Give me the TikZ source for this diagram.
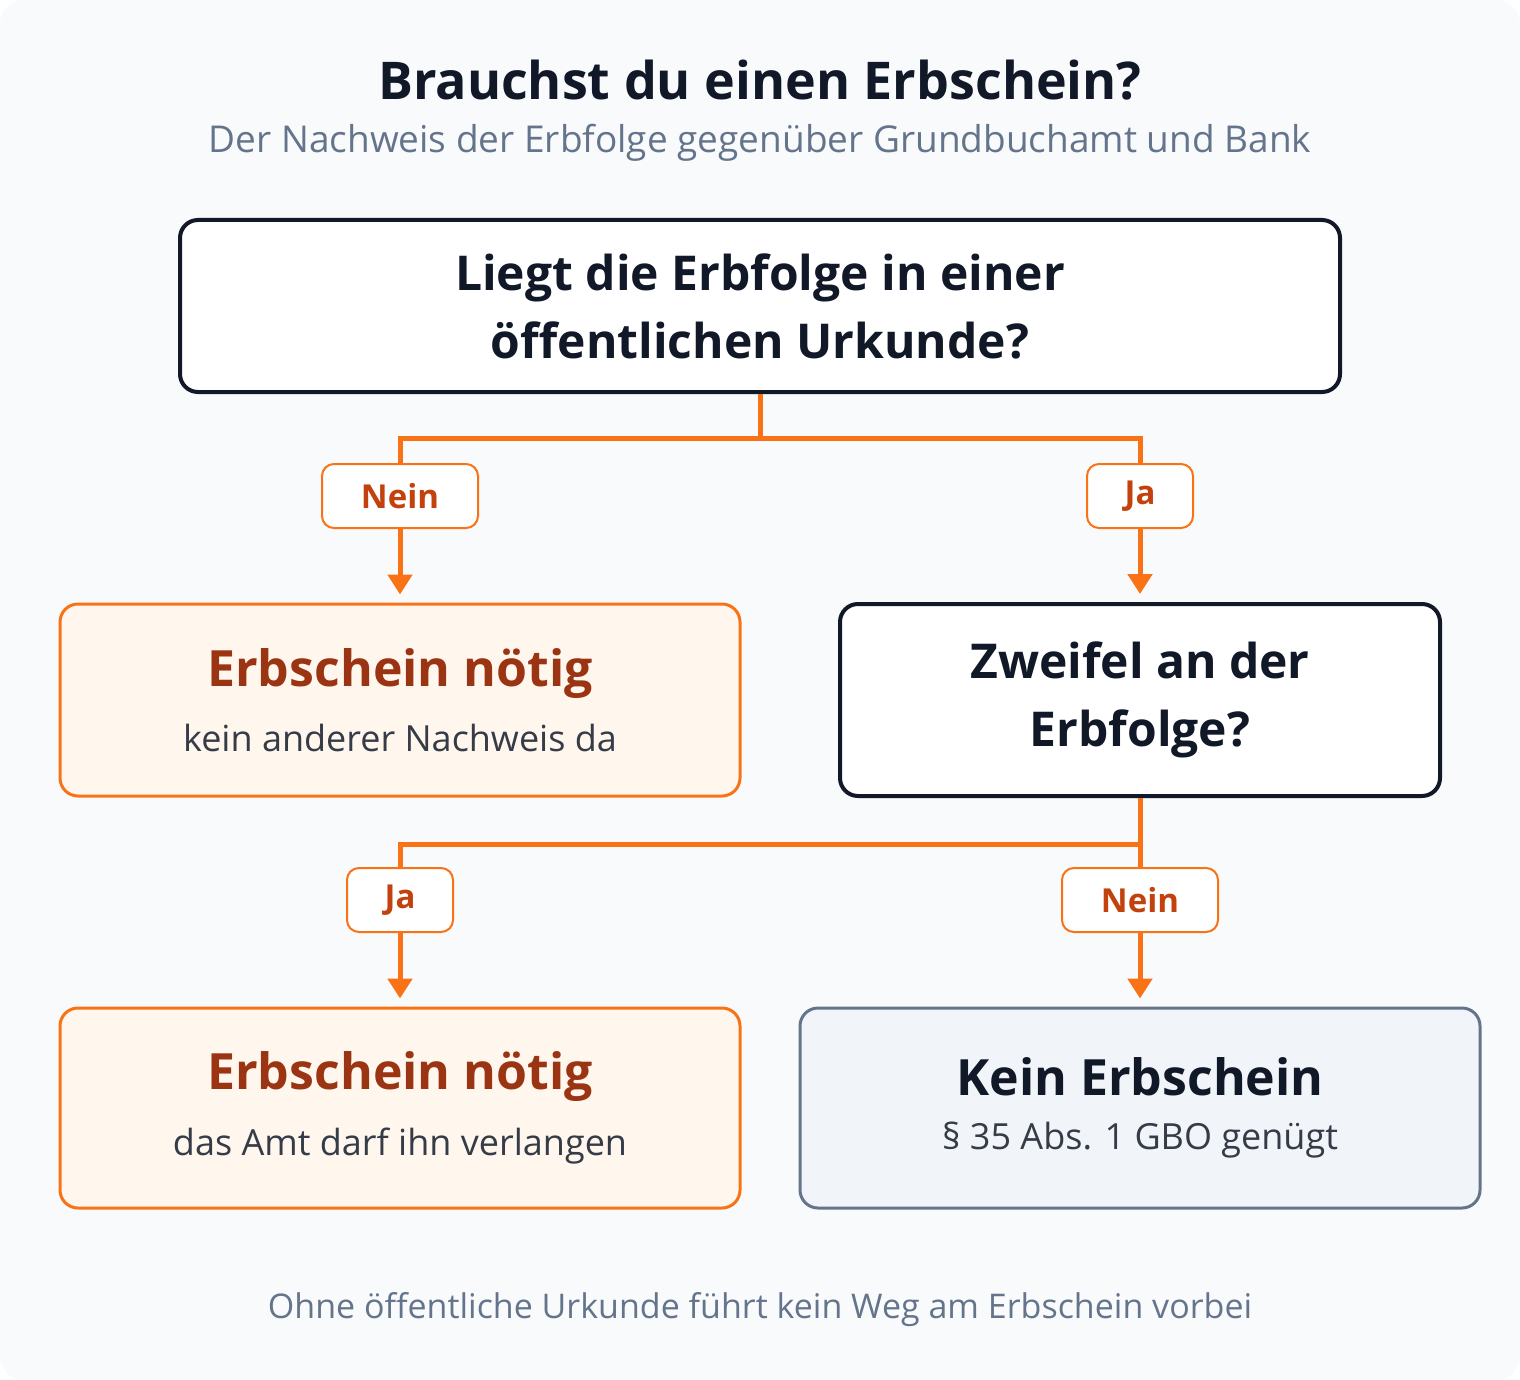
\documentclass[tikz,border=0pt]{standalone}
\usepackage{fontspec}
\setmainfont{Open Sans}
\usetikzlibrary{arrows.meta}
\definecolor{bgc}{HTML}{F8FAFC}
\definecolor{ink}{HTML}{111827}
\definecolor{muted}{HTML}{64748B}
\definecolor{org}{HTML}{F97316}
\definecolor{orgtext}{HTML}{C2410C}
\definecolor{orgdark}{HTML}{9A3412}
\definecolor{orgfill}{HTML}{FFF7ED}
\definecolor{slatefill}{HTML}{F1F5F9}
\begin{document}
\begin{tikzpicture}[x=0.5pt,y=-0.5pt,
  question/.style={draw=ink,line width=2pt,fill=white,rounded corners=9pt,align=center,
    inner ysep=2pt,font=\fontsize{24}{34}\selectfont\bfseries,text=ink},
  result/.style={draw=org,line width=1.5pt,fill=orgfill,rounded corners=9pt,align=center},
  final/.style={draw=muted,line width=1.5pt,fill=slatefill,rounded corners=9pt,align=center},
  answer/.style={draw=org,line width=1pt,fill=white,rounded corners=6pt,inner sep=0pt,
    minimum height=32pt,font=\fontsize{16.5}{18}\selectfont\bfseries,text=orgtext},
  flow/.style={draw=org,line width=2.5pt},
  pointer/.style={flow,-{Triangle[width=12pt,length=10pt]},shorten >=4pt}]
\useasboundingbox (0,0) rectangle (1520,1380);
\fill[white] (0,0) rectangle (1520,1380);
\fill[bgc,rounded corners=12pt] (0,0) rectangle (1520,1380);
% title
\node[font=\fontsize{26}{30}\selectfont\bfseries,text=ink] (title) at (760,80) {Brauchst du einen Erbschein?};
\node[font=\fontsize{18.5}{22}\selectfont,text=muted] (subtitle) at (760,143) {Der Nachweis der Erbfolge gegenüber Grundbuchamt und Bank};
% boxes
\node[question,minimum width=580pt,minimum height=86pt] (urkunde) at (760,306) {Liegt die Erbfolge in einer\\öffentlichen Urkunde?};
\node[result,minimum width=340pt,minimum height=96pt] (noetig1) at (400,700)
  {{\fontsize{25}{30}\selectfont\bfseries\color{orgdark}Erbschein nötig}\\[12pt]
   {\fontsize{18}{22}\selectfont\color{ink!85}kein anderer Nachweis da}};
\node[question,minimum width=300pt,minimum height=96pt] (zweifel) at (1140,700) {Zweifel an der\\Erbfolge?};
\node[result,minimum width=340pt,minimum height=100pt] (noetig2) at (400,1108)
  {{\fontsize{25}{30}\selectfont\bfseries\color{orgdark}Erbschein nötig}\\[12pt]
   {\fontsize{18}{22}\selectfont\color{ink!85}das Amt darf ihn verlangen}};
\node[final,minimum width=340pt,minimum height=100pt] (kein) at (1140,1108)
  {{\fontsize{25}{30}\selectfont\bfseries\color{ink}Kein Erbschein}\\[12pt]
   {\fontsize{18}{22}\selectfont\color{ink!85}§ 35 Abs. 1 GBO genügt}};
% labels
\node[answer,minimum width=78pt] (nein1) at (400,496) {Nein};
\node[answer,minimum width=53pt] (ja1) at (1140,496) {Ja};
\node[answer,minimum width=53pt] (ja2) at (400,900) {Ja};
\node[answer,minimum width=78pt] (nein2) at (1140,900) {Nein};
% connectors
\coordinate (split1) at (760,438);
\coordinate (split2) at (1140,844);
\draw[flow] (urkunde) -- (split1) -| (nein1);
\draw[flow] (split1) -| (ja1);
\draw[flow] (zweifel) -- (split2) -| (ja2);
\draw[flow] (split2) -- (nein2);
\draw[pointer] (nein1) -- (noetig1);
\draw[pointer] (ja1) -- (zweifel);
\draw[pointer] (ja2) -- (noetig2);
\draw[pointer] (nein2) -- (kein);
% footer
\node[font=\fontsize{17}{20}\selectfont,text=muted] (footer) at (760,1310) {Ohne öffentliche Urkunde führt kein Weg am Erbschein vorbei};
\end{tikzpicture}
\end{document}
